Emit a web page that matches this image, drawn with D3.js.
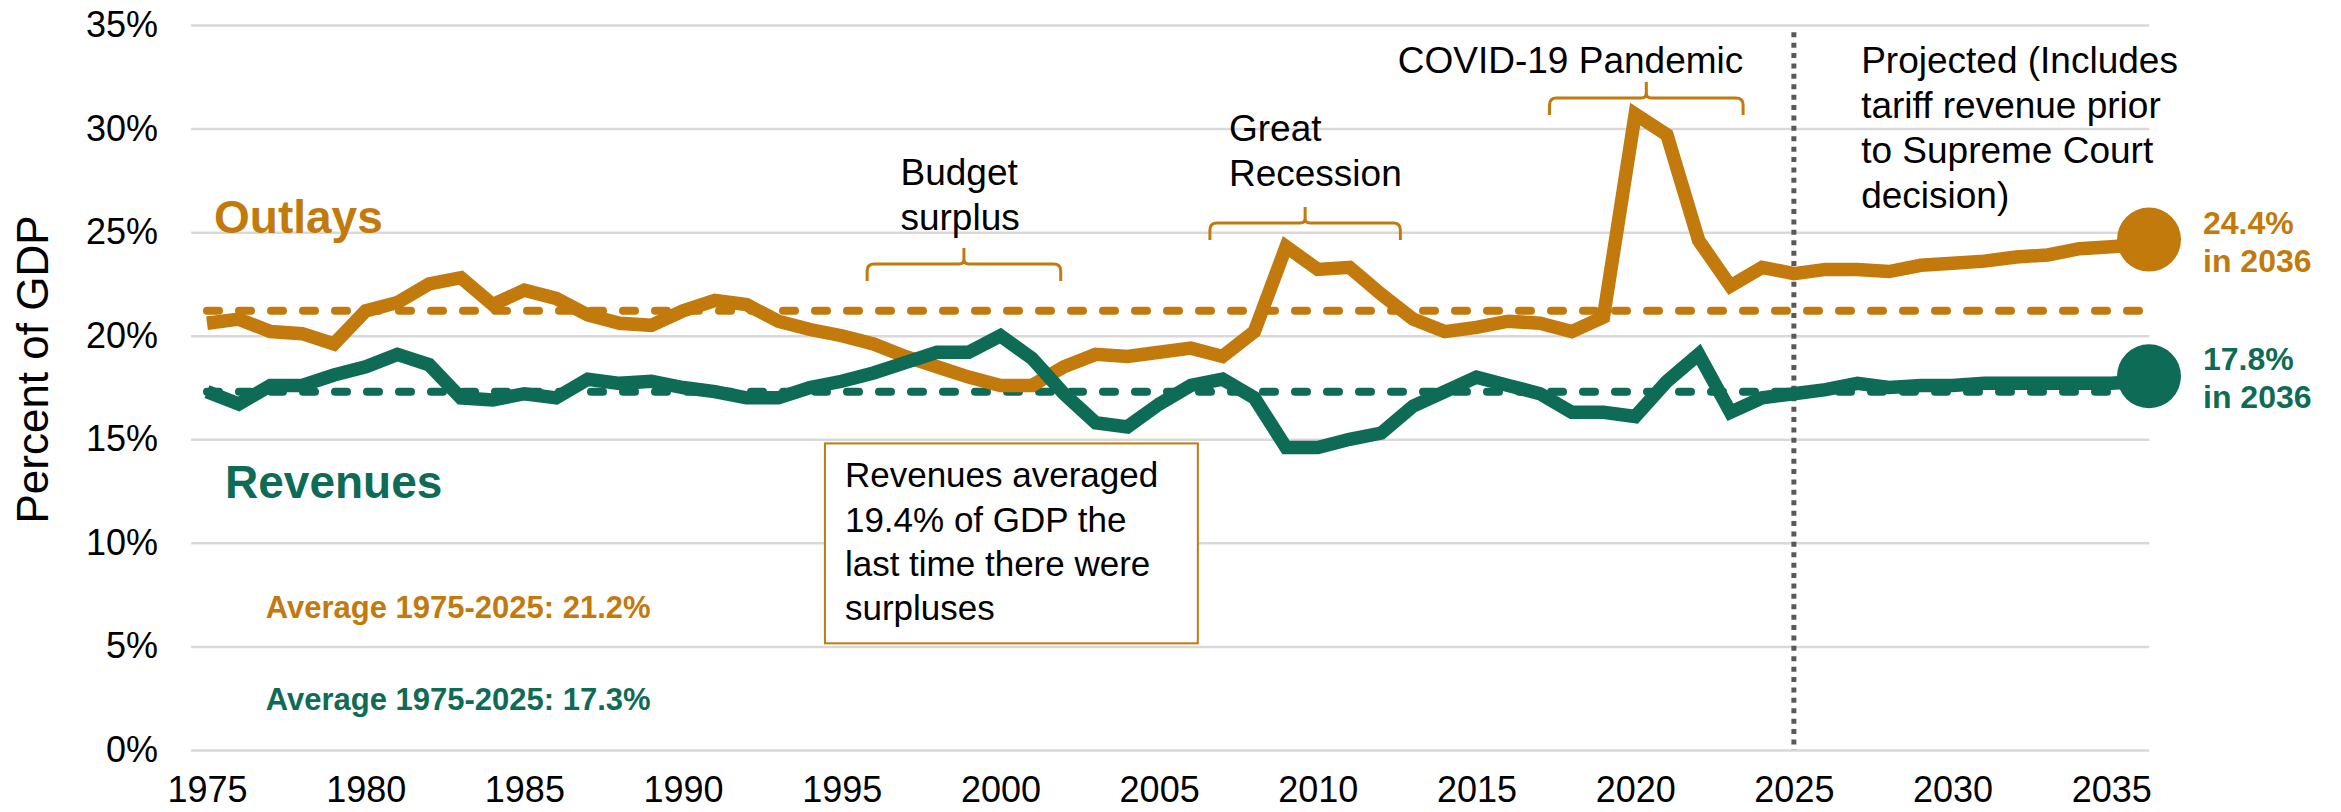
<!DOCTYPE html>
<html>
<head>
<meta charset="utf-8">
<script src="https://cdn.jsdelivr.net/npm/d3@7"></script>
<style>
  html, body { margin: 0; padding: 0; background: #ffffff; }
  svg { display: block; }
  text { font-family: "Liberation Sans", Arial, sans-serif; }
</style>
</head>
<body>
<svg id="chart" width="2341" height="812"></svg>
<script>
// ---------------- DATA ----------------
const years = [1975,1976,1977,1978,1979,1980,1981,1982,1983,1984,1985,1986,1987,1988,1989,
  1990,1991,1992,1993,1994,1995,1996,1997,1998,1999,2000,2001,2002,2003,2004,2005,2006,2007,
  2008,2009,2010,2011,2012,2013,2014,2015,2016,2017,2018,2019,2020,2021,2022,2023,2024,2025,
  2026,2027,2028,2029,2030,2031,2032,2033,2034,2035,2036];

const outlays = [20.6,20.8,20.2,20.1,19.6,21.2,21.6,22.5,22.8,21.5,22.2,21.8,21.0,20.6,20.5,
  21.2,21.7,21.5,20.7,20.3,20.0,19.6,19.0,18.5,18.0,17.6,17.6,18.5,19.1,19.0,19.2,19.4,19.0,
  20.2,24.3,23.2,23.3,22.0,20.8,20.2,20.4,20.7,20.6,20.2,20.9,30.7,29.7,24.6,22.4,23.3,23.0,
  23.2,23.2,23.1,23.4,23.5,23.6,23.8,23.9,24.2,24.3,24.4];

const revenues = [17.3,16.7,17.6,17.6,18.1,18.5,19.1,18.6,17.0,16.9,17.2,17.0,17.9,17.7,17.8,
  17.5,17.3,17.0,17.0,17.5,17.8,18.2,18.7,19.2,19.2,20.0,18.9,17.2,15.8,15.6,16.7,17.6,17.9,
  17.0,14.6,14.6,15.0,15.3,16.6,17.3,18.0,17.6,17.2,16.3,16.3,16.1,17.8,19.1,16.3,17.0,17.2,
  17.4,17.7,17.5,17.6,17.6,17.7,17.7,17.7,17.7,17.7,17.8];

const averages = [
  { name: "Outlays",  value: 21.2, label: "Average 1975-2025: 21.2%" },
  { name: "Revenues", value: 17.3, label: "Average 1975-2025: 17.3%" }
];
const projectionStart = 2025;

const yTickValues = [0, 5, 10, 15, 20, 25, 30, 35];
const xTickValues = [1975,1980,1985,1990,1995,2000,2005,2010,2015,2020,2025,2030,2035];

const braces = [
  { from: 1995.8, to: 2001.9, level: 23.46 },
  { from: 2006.6, to: 2012.6, level: 25.44 },
  { from: 2017.3, to: 2023.4, level: 31.48 }
];
const braceLabels = [
  { lines: ["Budget", "surplus"], year: 1996.85, level: 27.28 },
  { lines: ["Great", "Recession"], year: 2007.2, level: 29.4 },
  { lines: ["COVID-19 Pandemic"], year: 2012.52, level: 32.68 },
  { lines: ["Projected (Includes", "tariff revenue prior", "to Supreme Court", "decision)"], year: 2027.12, level: 32.68 }
];
const boxNote = { lines: ["Revenues averaged", "19.4% of GDP the", "last time there were", "surpluses"],
                  from: 1994.47, to: 2006.22, top: 14.8, bottom: 5.15 };

// ---------------- STYLE ----------------
const ORANGE = "#C27A0C";
const GREEN = "#0E6B55";
const GRID = "#D9D9D9";

const svg = d3.select("#chart");
svg.append("rect").attr("width", 2341).attr("height", 812).attr("fill", "#fff");

const x = d3.scaleLinear().domain([1975, 2036]).range([207, 2143]);
const y = d3.scaleLinear().domain([0, 35]).range([750, 25]);
const gridLeft = x(1974.5), gridRight = x(2036.2);

// ---------------- Y axis + gridlines ----------------
const yAxis = d3.axisLeft(y)
  .tickValues(yTickValues)
  .tickFormat(d => d + "%")
  .tickSize(-(gridRight - gridLeft))
  .tickPadding(33);
const gy = svg.append("g").attr("transform", `translate(${gridLeft},0)`).call(yAxis);
gy.select(".domain").remove();
gy.selectAll(".tick line").attr("stroke", GRID).attr("stroke-width", 2.5);
gy.selectAll(".tick text").attr("font-size", 36).attr("fill", "#000")
  .attr("font-family", '"Liberation Sans", Arial, sans-serif');

// ---------------- X axis ----------------
const xAxis = d3.axisBottom(x).tickValues(xTickValues).tickFormat(d3.format("d"))
  .tickSize(0).tickPadding(26);
const gx = svg.append("g").attr("transform", `translate(0,${y(0)})`).call(xAxis);
gx.select(".domain").remove();
gx.selectAll(".tick text").attr("font-size", 36).attr("fill", "#000")
  .attr("font-family", '"Liberation Sans", Arial, sans-serif');

// Y title
svg.append("text")
  .attr("transform", `translate(48,${(y(0) + y(35)) / 2 - 18}) rotate(-90)`)
  .attr("text-anchor", "middle")
  .attr("font-size", 44)
  .attr("fill", "#000")
  .text("Percent of GDP");

// ---------------- Projection divider ----------------
svg.append("line")
  .attr("x1", x(projectionStart)).attr("x2", x(projectionStart))
  .attr("y1", y(34.65)).attr("y2", y(0))
  .attr("stroke", "#595959").attr("stroke-width", 5)
  .attr("stroke-dasharray", "5 5.4");

// ---------------- Average lines ----------------
const colorOf = { Outlays: ORANGE, Revenues: GREEN };
svg.selectAll(".avg").data(averages).enter().append("line")
  .attr("class", "avg")
  .attr("x1", x(1975)).attr("x2", x(2035.9))
  .attr("y1", d => y(d.value)).attr("y2", d => y(d.value))
  .attr("stroke", d => colorOf[d.name])
  .attr("stroke-width", 8)
  .attr("stroke-linecap", "round")
  .attr("stroke-dasharray", "12 20");

// ---------------- Series lines ----------------
const series = [
  { name: "Outlays", values: outlays, color: ORANGE },
  { name: "Revenues", values: revenues, color: GREEN }
];
const line = d3.line().x((d, i) => x(years[i])).y(d => y(d));
svg.selectAll(".series").data(series).enter().append("path")
  .attr("class", "series")
  .attr("d", d => line(d.values))
  .attr("fill", "none")
  .attr("stroke", d => d.color)
  .attr("stroke-width", 13.5)
  .attr("stroke-linejoin", "miter")
  .attr("stroke-miterlimit", 3);

// End circles
const lastIdx = years.length - 1;
svg.selectAll(".endpt").data(series).enter().append("circle")
  .attr("cx", x(years[lastIdx]) + 6)
  .attr("cy", d => y(d.values[lastIdx]) - 5)
  .attr("r", 32)
  .attr("fill", d => d.color);

// End labels
series.forEach(s => {
  const cy = y(s.values[lastIdx]);
  const lx = x(years[lastIdx]) + 60;
  const t = svg.append("text")
    .attr("font-size", 32).attr("font-weight", "bold").attr("fill", s.color);
  t.append("tspan").attr("x", lx).attr("y", cy - 11)
    .text(d3.format(".1f")(s.values[lastIdx]) + "%");
  t.append("tspan").attr("x", lx).attr("y", cy + 27)
    .text("in " + years[lastIdx]);
});

// Series name labels
svg.append("text").attr("x", x(1975) + 7).attr("y", y(25.0) + 1)
  .attr("font-size", 46).attr("font-weight", "bold").attr("fill", ORANGE).text("Outlays");
svg.append("text").attr("x", x(1975) + 18).attr("y", y(12.15))
  .attr("font-size", 46).attr("font-weight", "bold").attr("fill", GREEN).text("Revenues");

// Average labels
svg.append("text").attr("x", x(1976.85)).attr("y", y(6.37))
  .attr("font-size", 31).attr("font-weight", "bold").attr("fill", ORANGE).text(averages[0].label);
svg.append("text").attr("x", x(1976.85)).attr("y", y(1.93))
  .attr("font-size", 31).attr("font-weight", "bold").attr("fill", GREEN).text(averages[1].label);

// ---------------- Braces ----------------
function bracePath(b) {
  const x1 = x(b.from), x2 = x(b.to), xm = (x1 + x2) / 2;
  const yy = y(b.level), drop = 17, tip = 16, r = 7;
  return `M${x1},${yy + drop} L${x1},${yy + r} Q${x1},${yy} ${x1 + r},${yy}` +
         ` L${xm - 5},${yy} Q${xm},${yy} ${xm},${yy - 5} L${xm},${yy - tip}` +
         ` M${xm},${yy - 5} Q${xm},${yy} ${xm + 5},${yy}` +
         ` L${x2 - r},${yy} Q${x2},${yy} ${x2},${yy + r} L${x2},${yy + drop}`;
}
svg.selectAll(".brace").data(braces).enter().append("path")
  .attr("class", "brace")
  .attr("d", bracePath)
  .attr("fill", "none")
  .attr("stroke", ORANGE)
  .attr("stroke-width", 3);

// Annotation texts
braceLabels.forEach(a => {
  const t = svg.append("text").attr("font-size", 37).attr("fill", "#000");
  a.lines.forEach((ln, i) => {
    t.append("tspan").attr("x", x(a.year)).attr("y", y(a.level) + i * 45).text(ln);
  });
});

// Note box
svg.append("rect")
  .attr("x", x(boxNote.from)).attr("y", y(boxNote.top))
  .attr("width", x(boxNote.to) - x(boxNote.from))
  .attr("height", y(boxNote.bottom) - y(boxNote.top))
  .attr("fill", "#fff").attr("stroke", ORANGE).attr("stroke-width", 2);
const nt = svg.append("text").attr("font-size", 35).attr("fill", "#000");
boxNote.lines.forEach((ln, i) => {
  nt.append("tspan").attr("x", x(boxNote.from) + 20).attr("y", y(boxNote.top) + 44 + i * 44.3).text(ln);
});
</script>
</body>
</html>
